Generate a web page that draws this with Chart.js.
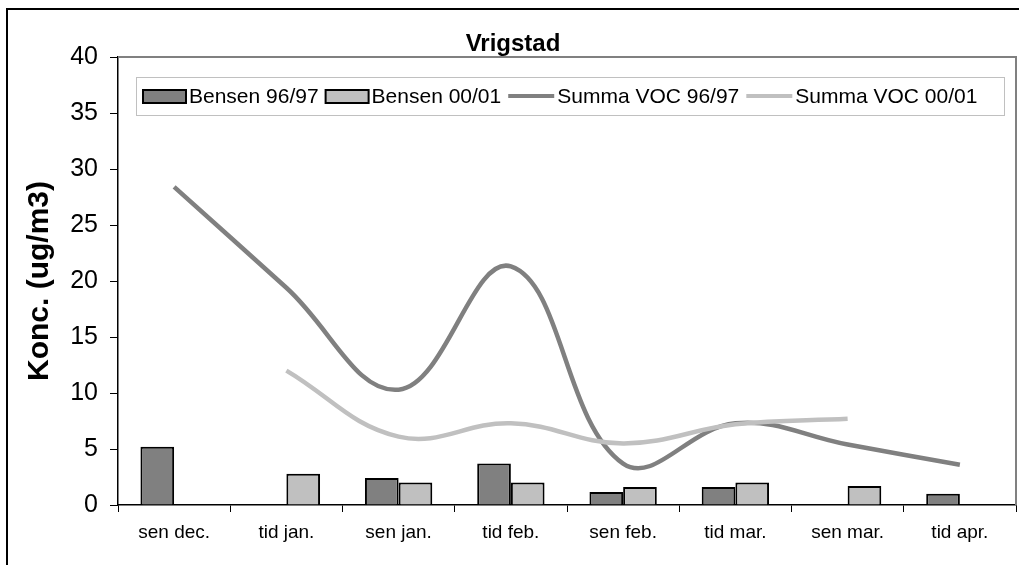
<!DOCTYPE html>
<html>
<head>
<meta charset="utf-8">
<script src="https://cdn.jsdelivr.net/npm/chart.js@4.4.0/dist/chart.umd.min.js"></script>
<style>
  html, body { margin: 0; padding: 0; background: #fff; }
  #wrap { position: relative; width: 1019px; height: 565px; }
</style>
</head>
<body>
<div id="wrap"><canvas id="chart" width="1019" height="565"></canvas></div>
<script>
// values
const categories = ['sen dec.', 'tid jan.', 'sen jan.', 'tid feb.', 'sen feb.', 'tid mar.', 'sen mar.', 'tid apr.'];
const bensen9697 = [5.2, null, 2.4, 3.7, 1.15, 1.6, null, 1.0];
const bensen0001 = [null, 2.8, 2.0, 2.0, 1.6, 2.0, 1.7, null];
const voc9697 = [28.4, 19.4, 10.3, 21.3, 3.7, 7.3, 5.4, 3.6];
const voc0001 = [null, 12.0, 6.1, 7.3, 5.5, 7.2, 7.7, null];
const yTicks = [0, 5, 10, 15, 20, 25, 30, 35, 40];

const FONT = "'Liberation Sans', Arial, sans-serif";
const DARK = '#808080';
const LIGHT = '#c0c0c0';

// title, frame, plot border and the legend box inside the plot
const decorations = {
    id: 'decorations',
    beforeDraw(chart) {
        const ctx = chart.ctx;
        ctx.save();
        ctx.fillStyle = '#fff';
        ctx.fillRect(0, 0, chart.width, chart.height);
        ctx.restore();
    },
    afterDraw(chart) {
        const ctx = chart.ctx;
        const area = chart.chartArea;
        ctx.save();

        // outer frame (only top and left show in the crop)
        ctx.strokeStyle = '#000';
        ctx.lineWidth = 2;
        ctx.beginPath();
        ctx.moveTo(7, chart.height);
        ctx.lineTo(7, 9);
        ctx.lineTo(chart.width, 9);
        ctx.stroke();

        // plot area top and right edges
        ctx.strokeStyle = DARK;
        ctx.lineWidth = 2;
        ctx.beginPath();
        ctx.moveTo(area.left, area.top);
        ctx.lineTo(area.right, area.top);
        ctx.lineTo(area.right, area.bottom);
        ctx.stroke();

        // title
        ctx.fillStyle = '#000';
        ctx.font = 'bold 24px ' + FONT;
        ctx.textAlign = 'center';
        ctx.textBaseline = 'middle';
        ctx.fillText('Vrigstad', 513, 44);

        // legend
        const box = { x: 136, y: 77, w: 868, h: 38 };
        ctx.fillStyle = '#fff';
        ctx.fillRect(box.x, box.y, box.w, box.h);
        ctx.strokeStyle = LIGHT;
        ctx.lineWidth = 1;
        ctx.strokeRect(box.x + 0.5, box.y + 0.5, box.w, box.h);

        ctx.font = '21px ' + FONT;
        ctx.textAlign = 'left';
        ctx.textBaseline = 'middle';
        const cy = box.y + box.h / 2;
        let x = 143;
        chart.data.datasets.forEach(ds => {
            if (ds.type === 'line') {
                ctx.strokeStyle = ds.borderColor;
                ctx.lineWidth = 4;
                ctx.beginPath();
                ctx.moveTo(x, cy);
                ctx.lineTo(x + 46, cy);
                ctx.stroke();
                x += 49;
            } else {
                ctx.fillStyle = ds.backgroundColor;
                ctx.fillRect(x, cy - 6, 43, 13);
                ctx.strokeStyle = '#000';
                ctx.lineWidth = 2;
                ctx.strokeRect(x, cy - 6, 43, 13);
                x += 46;
            }
            ctx.fillStyle = '#000';
            ctx.fillText(ds.label, x, cy + 1);
            x += ctx.measureText(ds.label).width + 7;
        });
        ctx.restore();
    }
};

new Chart(document.getElementById('chart').getContext('2d'), {
    type: 'bar',
    data: {
        labels: categories,
        datasets: [
            {
                label: 'Bensen 96/97',
                data: bensen9697,
                backgroundColor: DARK,
                borderColor: '#000',
                borderWidth: 2,
                order: 3
            },
            {
                label: 'Bensen 00/01',
                data: bensen0001,
                backgroundColor: LIGHT,
                borderColor: '#000',
                borderWidth: 2,
                order: 3
            },
            {
                type: 'line',
                label: 'Summa VOC 96/97',
                data: voc9697,
                borderColor: DARK,
                borderWidth: 4.5,
                pointRadius: 0,
                tension: 0.4,
                fill: false,
                order: 2
            },
            {
                type: 'line',
                label: 'Summa VOC 00/01',
                data: voc0001,
                borderColor: LIGHT,
                borderWidth: 4.5,
                pointRadius: 0,
                tension: 0.4,
                fill: false,
                order: 1
            }
        ]
    },
    options: {
        responsive: false,
        animation: false,
        layout: { padding: { top: 57, right: 3, left: 0, bottom: 0 } },
        plugins: {
            legend: { display: false },
            title: { display: false },
            tooltip: { enabled: false }
        },
        datasets: {
            bar: { categoryPercentage: 0.6, barPercentage: 1.0 }
        },
        scales: {
            x: {
                grid: {
                    drawOnChartArea: false,
                    color: '#000',
                    tickLength: 7,
                    offset: true
                },
                border: { color: '#000', width: 1.5 },
                ticks: {
                    color: '#000',
                    font: { family: FONT, size: 19 },
                    padding: 9,
                    maxRotation: 0
                },
                afterFit(scale) { scale.height = 60; }
            },
            y: {
                min: 0,
                max: 40,
                afterBuildTicks(scale) {
                    scale.ticks = yTicks.map(v => ({ value: v }));
                },
                grid: {
                    drawOnChartArea: false,
                    color: '#000',
                    tickLength: 8
                },
                border: { color: '#000', width: 1.5 },
                ticks: {
                    color: '#000',
                    font: { family: FONT, size: 25 },
                    padding: 12
                },
                title: {
                    display: true,
                    text: 'Konc. (ug/m3)',
                    color: '#000',
                    font: { family: FONT, size: 30, weight: 'bold' },
                    padding: { top: 22, bottom: 0 }
                },
                afterFit(scale) { scale.width = 118; }
            }
        }
    },
    plugins: [decorations]
});
</script>
</body>
</html>
